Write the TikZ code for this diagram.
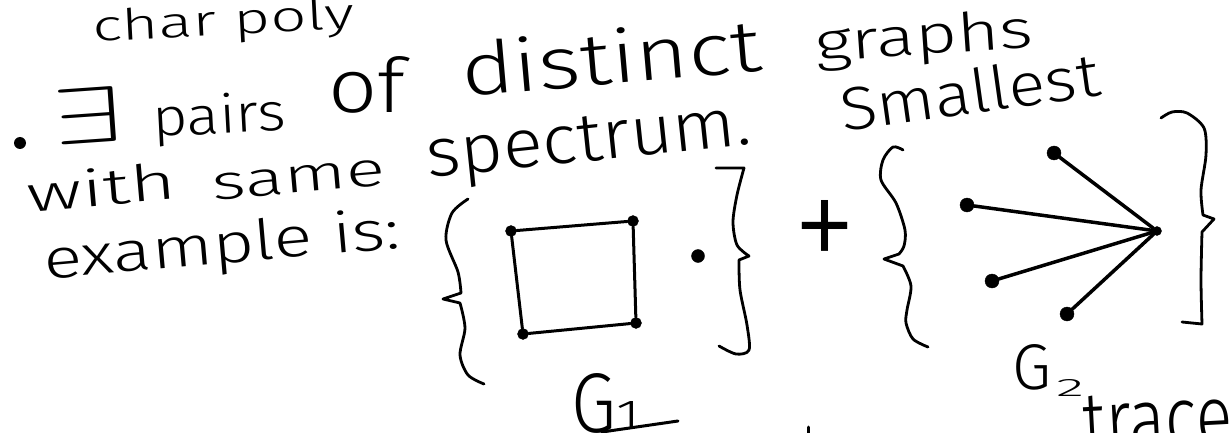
\documentclass[tikz,border=0pt]{standalone}
\usepackage{fontspec}
\setmainfont{Fira Sans Light}
\usepackage{graphicx}
\newcommand{\hw}[3]{\resizebox{#1pt}{#2pt}{#3}}
\begin{document}
\begin{tikzpicture}[x=1pt,y=-1pt,
  hw/.style={inner sep=0pt, outer sep=0pt, anchor=base west, font=\fontsize{60}{60}\selectfont},
  ink/.style={line width=3pt, line cap=round, line join=round},
  vtx/.style={circle, fill=black, draw=black, inner sep=0pt, minimum size=11pt},
  leaf/.style={vtx, minimum size=14pt},
  bracestroke/.style={line width=2.8pt, line cap=round, line join=round}]
\useasboundingbox (0,0) rectangle (1232,433);
\clip (0,0) rectangle (1232,433);
\fill[white] (0,0) rectangle (1232,433);

% text
\node[hw, rotate=3] (charpoly) at (93,42) {\hw{262}{32}{char poly}};
\node[circle, fill=black, inner sep=0pt, minimum size=12pt] (bullet) at (20,143) {};
\node[hw, rotate=4] (exists) at (55,146) {\hw{68}{55}{$\exists$}};
\node[hw, rotate=3] (pairs) at (153,137) {\hw{134}{40}{pairs}};
\node[hw] (of) at (328,113) {\hw{77}{56}{of}};
\node[hw, rotate=5] (distinct) at (463,97) {\hw{302}{55}{distinct}};
\node[hw, rotate=4] (graphs) at (816,62) {\hw{219}{40}{graphs}};
\node[hw, rotate=5] (with) at (28,212) {\hw{150}{38}{with}};
\node[hw, rotate=5] (same) at (213,200) {\hw{174}{26}{same}};
\node[hw, rotate=6] (spectrum) at (428,178) {\hw{327}{45}{spectrum.}};
\node[hw, rotate=8] (smallest) at (843,132) {\hw{262}{45}{Smallest}};
\node[hw, rotate=5] (example) at (45,279) {\hw{358}{42}{example is:}};

% G1
\draw[bracestroke] plot[smooth] coordinates {(468,199) (452,213) (446,240) (458,272) (461,293)}
  -- (443,299) -- plot[smooth] coordinates {(460,303) (465,328) (460,355) (468,375) (484,384)};
\node[vtx] (a) at (511,231) {};
\node[vtx] (b) at (633,221) {};
\node[vtx] (c) at (636,323) {};
\node[vtx] (d) at (523,334) {};
\draw[ink] (a) -- (b) -- (c) -- (d) -- (a);
\node[vtx, minimum size=13pt] (iso) at (698,256) {};
\draw[bracestroke] (716,168) -- plot[smooth] coordinates {(744,168) (737,195) (733,222) (737,245) (749,256)}
  -- (739,260) -- plot[smooth] coordinates {(739,262) (740,290) (747,325) (749,350) (736,354) (719,346)};

% plus
\node[inner sep=0pt, font=\fontsize{60}{60}\selectfont] (plus) at (825,237) {\hw{63}{73}{+}};

% G2
\draw[bracestroke] plot[smooth] coordinates {(903,150) (893,147) (883,160) (881,180) (896,203) (905,230) (904,246) (899,254)}
  -- (884,259) -- plot[smooth] coordinates {(903,266) (911,286) (907,310) (906,323) (913,339) (928,347)};
\node[vtx, minimum size=9pt] (s0) at (1157,231) {};
\node[leaf] (l1) at (1054,153) {};
\node[leaf] (l2) at (967,205) {};
\node[leaf] (l3) at (992,281) {};
\node[leaf] (l4) at (1067,314) {};
\draw[ink, line width=3.5pt] (s0) -- (l1);
\draw[ink, line width=3.5pt] (s0) -- (l2);
\draw[ink, line width=3.5pt] (s0) -- (l3);
\draw[ink, line width=3.5pt] (s0) -- (l4);
\draw[bracestroke] plot[smooth] coordinates {(1161,118) (1172,112) (1187,113) (1204,128) (1206,155) (1201,190) (1203,215)}
  -- (1214,219) -- plot[smooth] coordinates {(1202,232) (1201,280) (1202,324)} -- (1182,322);

% labels
\node[hw] (G1) at (571,432) {\hw{45}{59}{G}};
\node[hw] (G1sub) at (616,429) {\hw{24}{28}{1}};
\draw[ink] (602,432) -- (678,421);
\node[hw] (G2) at (1012,389) {\hw{39}{45}{G}};
\node[hw] (G2sub) at (1056,396) {\hw{28}{17}{2}};
\draw[ink] (808,427) -- (808,436);
\node[hw, rotate=3] (trace) at (1084,452) {\hw{150}{56}{trace}};
\end{tikzpicture}
\end{document}
